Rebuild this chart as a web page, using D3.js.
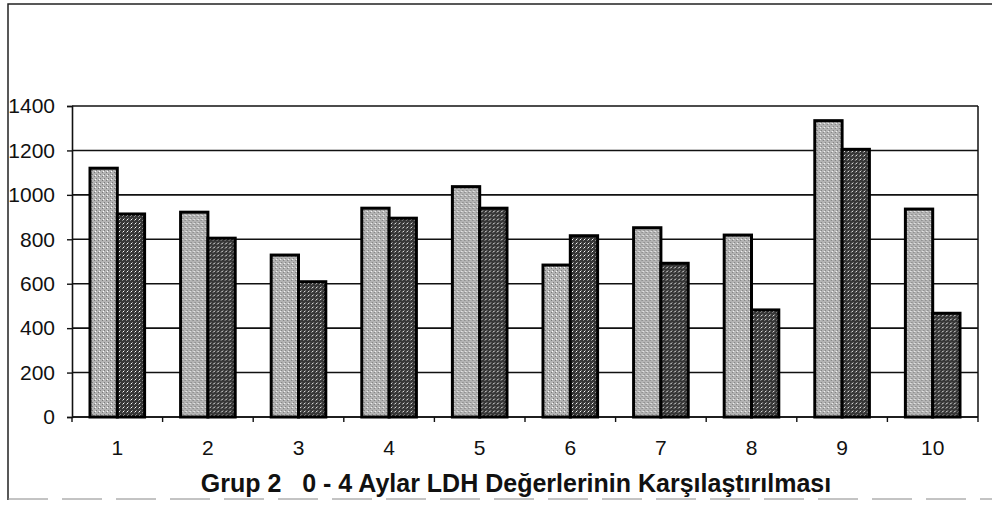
<!DOCTYPE html>
<html>
<head>
<meta charset="utf-8">
<script src="https://cdn.jsdelivr.net/npm/d3@7"></script>
<style>
  body { margin: 0; background: #fff; }
  svg { display: block; font-family: "Liberation Sans", Arial, sans-serif; }
</style>
</head>
<body>
<div id="chart"></div>
<script>
// values
var categories = ['1', '2', '3', '4', '5', '6', '7', '8', '9', '10'];
var month0 = [1120, 922, 729, 940, 1037, 684, 852, 819, 1334, 936];
var month4 = [914, 805, 609, 895, 940, 816, 692, 482, 1205, 467];
var yTicks = [0, 200, 400, 600, 800, 1000, 1200, 1400];
var title = 'Grup 2   0 - 4 Aylar LDH Değerlerinin Karşılaştırılması';

var width = 992, height = 507;
var margin = {top: 106, right: 14, bottom: 90, left: 72};
var plotW = width - margin.left - margin.right;
var plotH = height - margin.top - margin.bottom;

var svg = d3.select('#chart').append('svg')
    .attr('width', width)
    .attr('height', height);

// stipple textures for the two bar series
var defs = svg.append('defs');
function stipple(id, base, dot) {
    var p = defs.append('pattern')
        .attr('id', id)
        .attr('width', 4).attr('height', 4)
        .attr('patternUnits', 'userSpaceOnUse');
    p.append('rect').attr('width', 4).attr('height', 4).attr('fill', base);
    p.append('rect').attr('x', 0).attr('y', 0).attr('width', 1).attr('height', 1).attr('fill', dot);
    p.append('rect').attr('x', 2).attr('y', 2).attr('width', 1).attr('height', 1).attr('fill', dot);
    p.append('rect').attr('x', 3).attr('y', 1).attr('width', 1).attr('height', 1).attr('fill', '#fff');
}
stipple('lightTex', '#b4b4b4', '#7a7a7a');
stipple('darkTex', '#363636', '#8a8a8a');

// outer frame
svg.append('path')
    .attr('d', 'M8,500 L8,4 L992,4')
    .attr('fill', 'none')
    .attr('stroke', '#222')
    .attr('stroke-width', 1.5);
svg.append('line')
    .attr('x1', 8).attr('x2', 992)
    .attr('y1', 499).attr('y2', 499)
    .attr('stroke', '#888')
    .attr('stroke-width', 1)
    .attr('stroke-dasharray', '40,14');

var g = svg.append('g')
    .attr('transform', 'translate(' + margin.left + ',' + margin.top + ')');

var x = d3.scaleBand()
    .domain(categories)
    .range([0, plotW]);

var xInner = d3.scaleBand()
    .domain(['m0', 'm4'])
    .range([18, x.bandwidth() - 18]);

var y = d3.scaleLinear()
    .domain([0, 1400])
    .range([plotH, 0]);

// gridlines
g.selectAll('.grid')
    .data(yTicks)
    .enter().append('line')
    .attr('class', 'grid')
    .attr('x1', 0).attr('x2', plotW)
    .attr('y1', function(d) { return y(d); })
    .attr('y2', function(d) { return y(d); })
    .attr('stroke', '#111')
    .attr('stroke-width', 1.6);

// right border of plot
g.append('line')
    .attr('x1', plotW).attr('x2', plotW)
    .attr('y1', 0).attr('y2', plotH)
    .attr('stroke', '#111')
    .attr('stroke-width', 1.5);

// y axis
var yAxis = g.append('g')
    .call(d3.axisLeft(y).tickValues(yTicks).tickSize(5).tickPadding(12).tickFormat(d3.format('d')));
yAxis.select('.domain').attr('stroke', '#111').attr('stroke-width', 1.6);
yAxis.selectAll('.tick line').attr('stroke', '#111').attr('stroke-width', 1.4);
yAxis.selectAll('text')
    .attr('font-size', 21)
    .attr('fill', '#111');

// x axis: ticks between categories
var xAxis = g.append('g')
    .attr('transform', 'translate(0,' + plotH + ')');
xAxis.append('line')
    .attr('x1', 0).attr('x2', plotW)
    .attr('stroke', '#111').attr('stroke-width', 1.6);
xAxis.selectAll('.xt')
    .data(d3.range(categories.length + 1))
    .enter().append('line')
    .attr('class', 'xt')
    .attr('x1', function(i) { return i * x.step(); })
    .attr('x2', function(i) { return i * x.step(); })
    .attr('y1', 0).attr('y2', 5)
    .attr('stroke', '#111').attr('stroke-width', 1.4);
xAxis.selectAll('.xl')
    .data(categories)
    .enter().append('text')
    .attr('class', 'xl')
    .attr('x', function(d) { return x(d) + x.bandwidth() / 2; })
    .attr('y', 38)
    .attr('text-anchor', 'middle')
    .attr('font-size', 21)
    .attr('fill', '#111')
    .text(function(d) { return d; });

// bars
var groups = g.selectAll('.bar')
    .data(categories)
    .enter().append('g')
    .attr('class', 'bar')
    .attr('transform', function(d) { return 'translate(' + x(d) + ',0)'; });

groups.append('rect')
    .attr('x', xInner('m0'))
    .attr('width', xInner.bandwidth())
    .attr('y', function(d, i) { return y(month0[i]); })
    .attr('height', function(d, i) { return plotH - y(month0[i]); })
    .attr('fill', 'url(#lightTex)')
    .attr('stroke', '#000')
    .attr('stroke-width', 3);

groups.append('rect')
    .attr('x', xInner('m4'))
    .attr('width', xInner.bandwidth())
    .attr('y', function(d, i) { return y(month4[i]); })
    .attr('height', function(d, i) { return plotH - y(month4[i]); })
    .attr('fill', 'url(#darkTex)')
    .attr('stroke', '#000')
    .attr('stroke-width', 3);

// title
svg.append('text')
    .attr('x', 516)
    .attr('y', 492)
    .attr('text-anchor', 'middle')
    .attr('font-size', 25)
    .attr('font-weight', 'bold')
    .attr('fill', '#111')
    .style('white-space', 'pre')
    .text(title);
</script>
</body>
</html>
